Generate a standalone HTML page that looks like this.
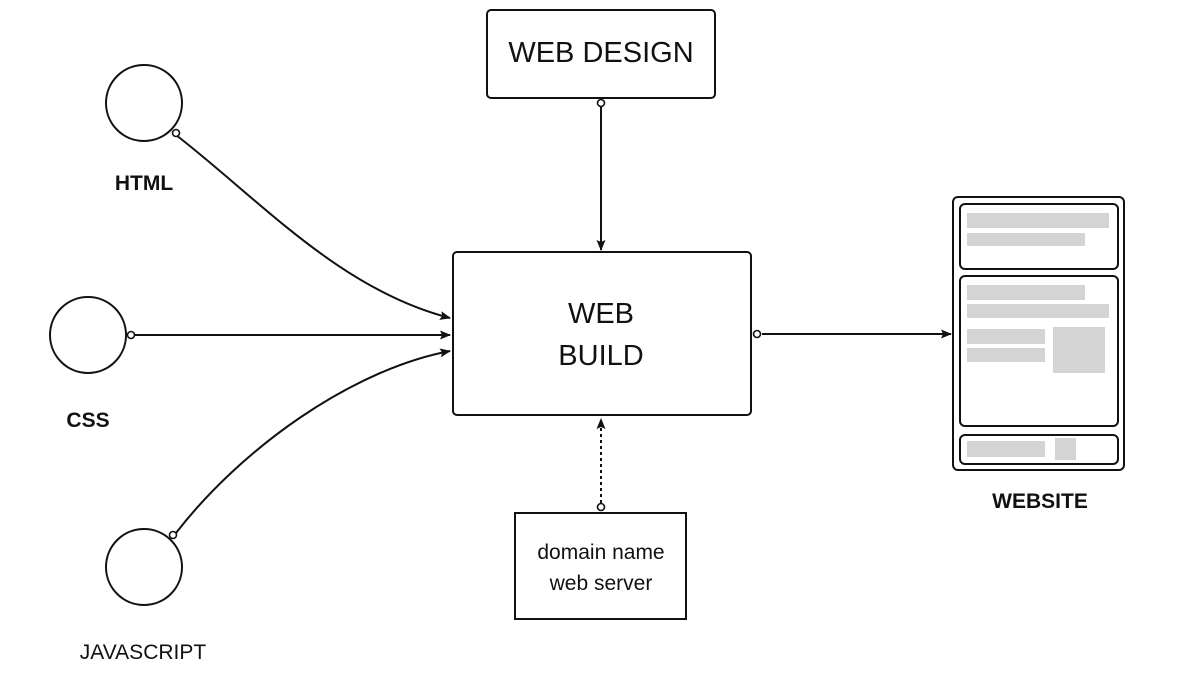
<!DOCTYPE html>
<html><head><meta charset="utf-8"><style>
html,body{margin:0;padding:0;background:#fff;width:1200px;height:680px;overflow:hidden}
text{font-family:"Liberation Sans",sans-serif;fill:#111}
</style></head><body>
<svg width="1200" height="680" viewBox="0 0 1200 680" xmlns="http://www.w3.org/2000/svg">
<defs><marker id="a" markerWidth="11" markerHeight="9" refX="10" refY="4.5" orient="auto" markerUnits="userSpaceOnUse"><path d="M0,0 L11,4.5 L0,9 L2,4.5 Z" fill="#111"/></marker></defs>
<g fill="none" stroke="#111" stroke-width="2">
<circle cx="144" cy="103" r="38"/>
<circle cx="88" cy="335" r="38"/>
<circle cx="144" cy="567" r="38"/>
<rect x="487" y="10" width="228" height="88" rx="4"/>
<rect x="453" y="252" width="298" height="163" rx="4"/>
<rect x="515" y="513" width="171" height="106"/>
<rect x="953" y="197" width="171" height="273" rx="5"/>
<rect x="960" y="204" width="158" height="65" rx="5"/>
<rect x="960" y="276" width="158" height="150" rx="5"/>
<rect x="960" y="435" width="158" height="29" rx="5"/>
<path d="M176,135 C260,200 340,290 450,318" marker-end="url(#a)"/>
<path d="M135,335 L450,335" marker-end="url(#a)"/>
<path d="M176,533 C240,450 350,370 450,351" marker-end="url(#a)"/>
<path d="M601,107 L601,250" marker-end="url(#a)"/>
<path d="M601,503 L601,419" stroke-dasharray="3,3" marker-end="url(#a)"/>
<path d="M762,334 L951,334" marker-end="url(#a)"/>
</g>
<g fill="#fff" stroke="#111" stroke-width="1.6">
<circle cx="176" cy="133" r="3.5"/>
<circle cx="131" cy="335" r="3.5"/>
<circle cx="173" cy="535" r="3.5"/>
<circle cx="601" cy="103" r="3.5"/>
<circle cx="601" cy="507" r="3.5"/>
<circle cx="757" cy="334" r="3.5"/>
</g>
<g fill="#d4d4d4">
<rect x="967" y="213" width="142" height="15"/>
<rect x="967" y="233" width="118" height="13"/>
<rect x="967" y="285" width="118" height="15"/>
<rect x="967" y="304" width="142" height="14"/>
<rect x="967" y="329" width="78" height="15"/>
<rect x="967" y="348" width="78" height="14"/>
<rect x="1053" y="327" width="52" height="46"/>
<rect x="967" y="441" width="78" height="16"/>
<rect x="1055" y="438" width="21" height="22"/>
</g>
<text x="601" y="62" font-size="29" text-anchor="middle">WEB DESIGN</text>
<text x="601" y="323" font-size="29" text-anchor="middle">WEB</text>
<text x="601" y="365" font-size="29" text-anchor="middle">BUILD</text>
<text x="601" y="559" font-size="21" text-anchor="middle">domain name</text>
<text x="601" y="590" font-size="21" text-anchor="middle">web server</text>
<text x="144" y="190" font-size="21" font-weight="bold" text-anchor="middle">HTML</text>
<text x="88" y="427" font-size="21" font-weight="bold" text-anchor="middle">CSS</text>
<text x="143" y="659" font-size="21" text-anchor="middle">JAVASCRIPT</text>
<text x="1040" y="508" font-size="21" font-weight="bold" text-anchor="middle">WEBSITE</text>
</svg>
</body></html>
